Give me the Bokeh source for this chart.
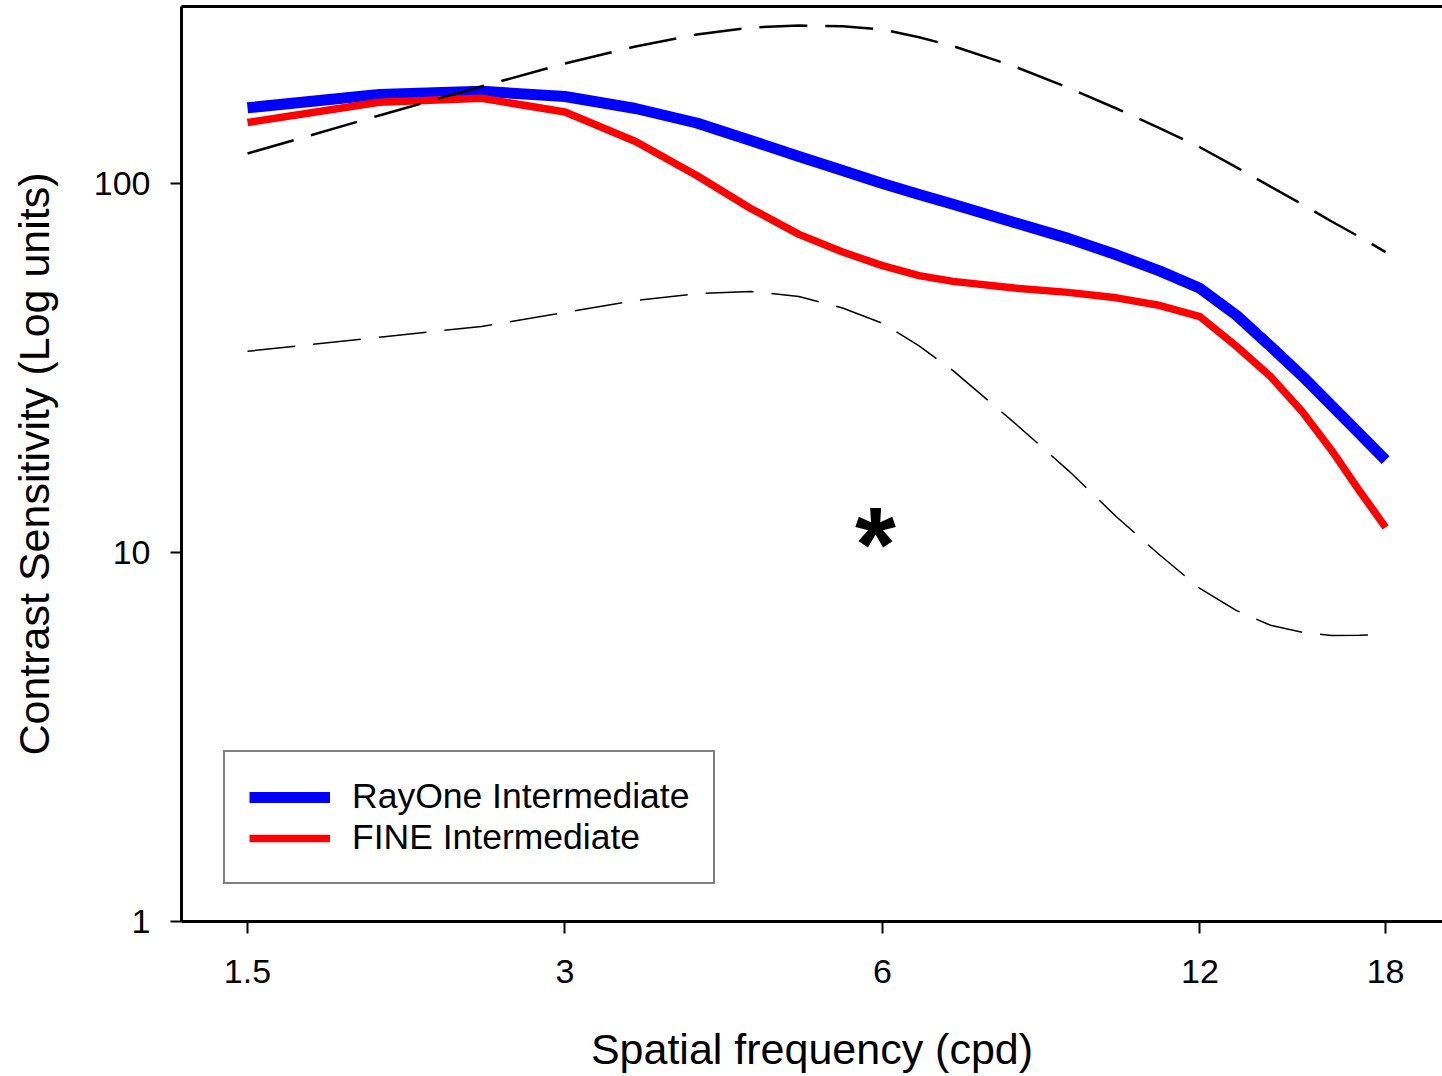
from bokeh.plotting import figure
from bokeh.models import (Range1d, FixedTicker, CustomJSTickFormatter, LogAxis,
                          Legend, LegendItem, Label)
from bokeh.embed import file_html
from bokeh.resources import INLINE

# ---- data ----
freq = [1.5, 2, 2.5, 3, 3.5, 4, 4.5, 5, 5.5, 6, 6.5, 7, 8, 9, 10, 11, 12,
        13, 14, 15, 16, 17, 18]
rayone = [160.4, 174.3, 177.9, 172.1, 159.7, 145.9, 130.8, 118.4, 108.4, 100.0,
          93.4, 87.9, 78.4, 71.0, 64.1, 57.9, 52.0, 43.9, 36.2, 30.1, 25.0,
          21.0, 17.8]
fine = [146.3, 166.1, 170.3, 156.2, 130.0, 105.1, 85.6, 72.8, 65.2, 59.9,
        56.3, 54.3, 52.1, 50.7, 49.0, 46.7, 43.6, 36.2, 30.0, 24.1, 18.9,
        14.7, 11.7]
norm_upper = [120.6, 152.9, 183.2, 211.5, 235.1, 253.3, 264.7, 268.0, 267.0,
              261.4, 249.0, 235.7, 207.7, 181.9, 159.7, 141.1, 125.4, 110.6,
              98.1, 87.9, 78.9, 71.7, 65.2]
norm_lower = [35.1, 38.3, 41.0, 44.7, 48.2, 50.3, 51.0, 49.4, 46.0, 41.8,
              36.3, 31.1, 22.5, 16.7, 12.5, 9.83, 7.99, 6.96, 6.35, 6.08,
              5.96, 5.97, 5.99]

x_ticks = [1.5, 3, 6, 12, 18]
y_ticks = [1, 10, 100]
series_labels = ["RayOne Intermediate", "FINE Intermediate"]
sig_freq = 6
sig_level = 11.5

FONT = "Liberation Sans"

p = figure(width=1442, height=1076, x_axis_type="log", y_axis_type="log",
           x_range=Range1d(1.2987, 20.38), y_range=Range1d(1, 301.8),
           output_backend="svg", toolbar_location=None,
           min_border_left=181, min_border_right=0, min_border_top=6,
           min_border_bottom=155)
p.grid.visible = False
p.outline_line_color = None
p.background_fill_color = "white"
p.border_fill_color = "white"

r_blue = p.line(freq, rayone, line_color="#0000ff", line_width=11,
                line_join="round")
r_red = p.line(freq, fine, line_color="#ff0000", line_width=7.5,
               line_join="round")
p.line(freq, norm_upper, line_color="black", line_width=2.5, line_dash="48 18")
p.line(freq, norm_lower, line_color="black", line_width=1.5, line_dash="48 18")

xa = p.xaxis[0]
xa.ticker = FixedTicker(ticks=x_ticks)
xa.formatter = CustomJSTickFormatter(code="return tick.toString();")
xa.axis_line_width = 3
xa.major_tick_line_width = 2
xa.major_tick_out = 12
xa.major_tick_in = 0
xa.minor_tick_out = 0
xa.minor_tick_in = 0
xa.major_label_text_font = FONT
xa.major_label_text_font_size = "34px"
xa.major_label_text_color = "black"
xa.major_label_standoff = 26
xa.axis_label = "Spatial frequency (cpd)"
xa.axis_label_text_font = FONT
xa.axis_label_text_font_size = "43px"
xa.axis_label_text_font_style = "normal"
xa.axis_label_text_color = "black"
xa.axis_label_standoff = 39

ya = p.yaxis[0]
ya.ticker = FixedTicker(ticks=y_ticks)
ya.formatter = CustomJSTickFormatter(code="return tick.toString();")
ya.axis_line_width = 3
ya.major_tick_line_width = 2
ya.major_tick_out = 11
ya.major_tick_in = 0
ya.minor_tick_out = 0
ya.minor_tick_in = 0
ya.major_label_text_font = FONT
ya.major_label_text_font_size = "34px"
ya.major_label_text_color = "black"
ya.major_label_standoff = 20
ya.axis_label = "Contrast Sensitivity (Log units)"
ya.axis_label_text_font = FONT
ya.axis_label_text_font_size = "43px"
ya.axis_label_text_font_style = "normal"
ya.axis_label_text_color = "black"
ya.axis_label_standoff = 33

top = LogAxis(ticker=FixedTicker(ticks=[]), axis_line_width=3,
              major_tick_out=0, major_tick_in=0, minor_tick_out=0, minor_tick_in=0,
              major_label_standoff=0)
p.add_layout(top, "above")

legend = Legend(items=[LegendItem(label=series_labels[0], renderers=[r_blue]),
                       LegendItem(label=series_labels[1], renderers=[r_red])],
                location=(42, 37), border_line_color="black", border_line_width=2,
                background_fill_color="white", background_fill_alpha=1,
                label_text_font=FONT, label_text_font_size="35.5px",
                label_text_color="black",
                glyph_width=81, glyph_height=38, label_height=38,
                label_standoff=22, padding=24, spacing=0, margin=0)
p.add_layout(legend)

star = Label(x=sig_freq, y=sig_level, text="*", text_font=FONT,
             text_font_style="bold", text_font_size="105px",
             text_align="center", text_baseline="middle",
             x_offset=-7, y_offset=-14, text_color="black")
p.add_layout(star)

open("out.html", "w").write(file_html(p, INLINE))
